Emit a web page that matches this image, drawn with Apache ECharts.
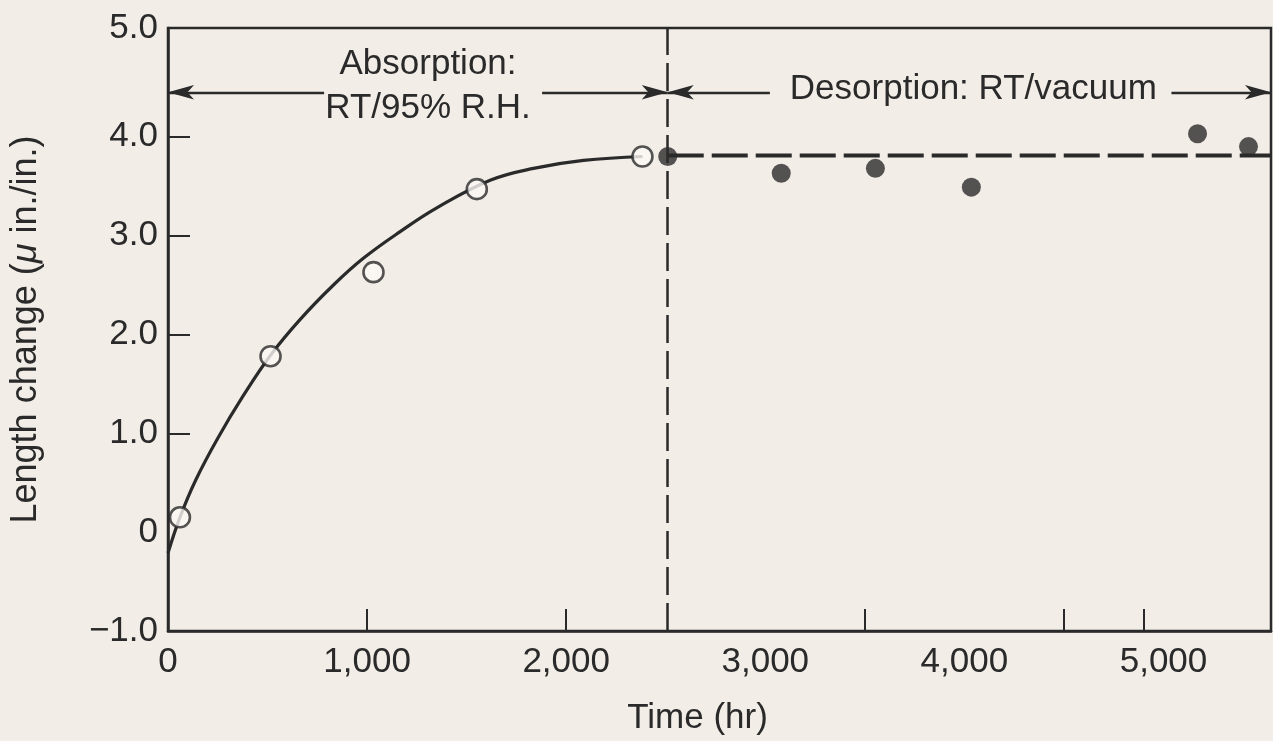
<!DOCTYPE html>
<html>
<head>
    <meta charset="utf-8">
    <title>Length change vs time</title>
    <script src="https://cdn.jsdelivr.net/npm/echarts@6/dist/echarts.min.js"></script>
    <style>
        body { margin: 0; background: #f2ede7; }
    </style>
</head>
<body>
    <div id="main" style="width: 1273px;height:741px;"></div>
    <script type="text/javascript">
        // absorption (open circles) and desorption (filled circles) readings
        var absTime = [60, 515, 1032, 1551, 2383];
        var absValue = [0.15, 1.78, 2.63, 3.47, 3.80];
        var desTime = [2510, 3080, 3553, 4035, 5171, 5427];
        var desValue = [3.80, 3.63, 3.68, 3.49, 4.03, 3.90];

        // hand-drawn fitted curve through the absorption points
        var curveTime = [0, 60, 140, 250, 378, 515, 663, 831, 981, 1166, 1350, 1618, 1836, 2087, 2383];
        var curveValue = [-0.21, 0.15, 0.53, 0.95, 1.38, 1.79, 2.15, 2.50, 2.77, 3.04, 3.28, 3.56, 3.68, 3.76, 3.80];

        // dashed desorption level
        var levelTime = [2510, 5540];
        var levelValue = [3.81, 3.81];

        var switchTime = 2510;
        var xMax = 5540;
        var yMax = 5.1;
        var xLabelValues = [0, 1000, 2000, 3000, 4000, 5000];
        var xTickValues = [1000, 2000, 3500, 4500, 4900];
        var yLabelValues = [-1, 0, 1, 2, 3, 4, 5.1];
        var yTickValues = [1, 2, 3, 4];

        var ink = '#2a2a2a';
        var bg = '#f2ede7';
        var font = '"Liberation Sans", Arial, Helvetica, sans-serif';

        function pairs(xs, ys) {
            return xs.map(function (x, i) { return [x, ys[i]]; });
        }

        var arrowY = 4.45;
        var myChart = echarts.init(document.getElementById('main'));

        var option = {
            backgroundColor: bg,
            animation: false,
            textStyle: { fontFamily: font, color: ink },
            grid: {
                left: 168, right: 2, top: 28, bottom: 110,
                show: true, borderColor: ink, borderWidth: 2.5
            },
            xAxis: {
                type: 'value', min: 0, max: xMax,
                name: 'Time (hr)', nameLocation: 'middle', nameGap: 70,
                nameTextStyle: { fontSize: 35, color: ink, fontFamily: font, padding: [0, 44, 0, 0] },
                axisLine: { show: true, onZero: false, lineStyle: { color: ink, width: 2.5 } },
                axisTick: { show: true, inside: true, length: 22, customValues: xTickValues, lineStyle: { color: ink, width: 2 } },
                axisLabel: {
                    customValues: xLabelValues, margin: 14, fontSize: 35, color: ink, fontFamily: font,
                    formatter: function (v) { return v.toLocaleString('en-US'); }
                },
                splitLine: { show: false }
            },
            yAxis: {
                type: 'value', min: -1, max: yMax,
                name: '{a|Length change (}{m|μ}{a| in./in.)}', nameLocation: 'middle', nameGap: 124,
                nameRotate: 90,
                nameTextStyle: {
                    fontSize: 36, color: ink, fontFamily: font,
                    rich: {
                        a: { fontSize: 36, color: ink, fontFamily: font },
                        m: { fontSize: 36, color: ink, fontFamily: font, fontStyle: 'italic' }
                    }
                },
                axisLine: { show: true, lineStyle: { color: ink, width: 2.5 } },
                axisTick: { show: true, inside: true, length: 22, customValues: yTickValues, lineStyle: { color: ink, width: 2 } },
                axisLabel: {
                    customValues: yLabelValues, margin: 10, fontSize: 35, color: ink, fontFamily: font,
                    formatter: function (v) {
                        if (v === 0) return '0';
                        if (v > 5) return '5.0';
                        return (v < 0 ? '\u2212' : '') + Math.abs(v).toFixed(1);
                    }
                },
                splitLine: { show: false }
            },
            series: [{
                name: 'fit',
                type: 'line',
                data: pairs(curveTime, curveValue),
                smooth: 0.4,
                showSymbol: false,
                silent: true,
                lineStyle: { color: ink, width: 3.2 },
                z: 2
            }, {
                name: 'level',
                type: 'line',
                data: pairs(levelTime, levelValue),
                showSymbol: false,
                silent: true,
                lineStyle: { color: ink, width: 4, type: [36, 8] },
                z: 2,
                markLine: {
                    silent: true,
                    symbol: 'none',
                    label: { show: false },
                    lineStyle: { color: ink, width: 2.5, type: [28, 8] },
                    data: [{ xAxis: switchTime }]
                }
            }, {
                name: 'absorption',
                type: 'scatter',
                data: pairs(absTime, absValue),
                symbol: 'circle',
                symbolSize: 20,
                itemStyle: { color: '#fbf9f6', borderColor: ink, borderWidth: 2.6 },
                z: 4
            }, {
                name: 'desorption',
                type: 'scatter',
                data: pairs(desTime, desValue),
                symbol: 'circle',
                symbolSize: 19,
                itemStyle: { color: ink },
                z: 4
            }, {
                name: 'annotations',
                type: 'line',
                data: [],
                silent: true,
                markLine: {
                    silent: true,
                    symbol: ['arrow', 'none'],
                    symbolSize: [11, 26],
                    label: { show: false },
                    lineStyle: { color: ink, width: 2.4, type: 'solid' },
                    data: [
                        [{ coord: [0, arrowY] }, { coord: [784, arrowY] }],
                        [{ coord: [switchTime, arrowY] }, { coord: [1879, arrowY] }],
                        [{ coord: [switchTime, arrowY] }, { coord: [3023, arrowY] }],
                        [{ coord: [xMax, arrowY] }, { coord: [5040, arrowY] }]
                    ]
                },
                markPoint: {
                    silent: true,
                    symbol: 'circle',
                    symbolSize: 0,
                    label: {
                        show: true, color: ink, fontFamily: font, fontSize: 35, lineHeight: 44,
                        formatter: function (p) { return p.name; }
                    },
                    data: [
                        { name: 'Absorption:\nRT/95% R.H.', coord: [1306, 4.51] },
                        { name: 'Desorption: RT/vacuum', coord: [4045, 4.48] }
                    ]
                }
            }]
        };

        myChart.setOption(option);
    </script>
</body>
</html>
